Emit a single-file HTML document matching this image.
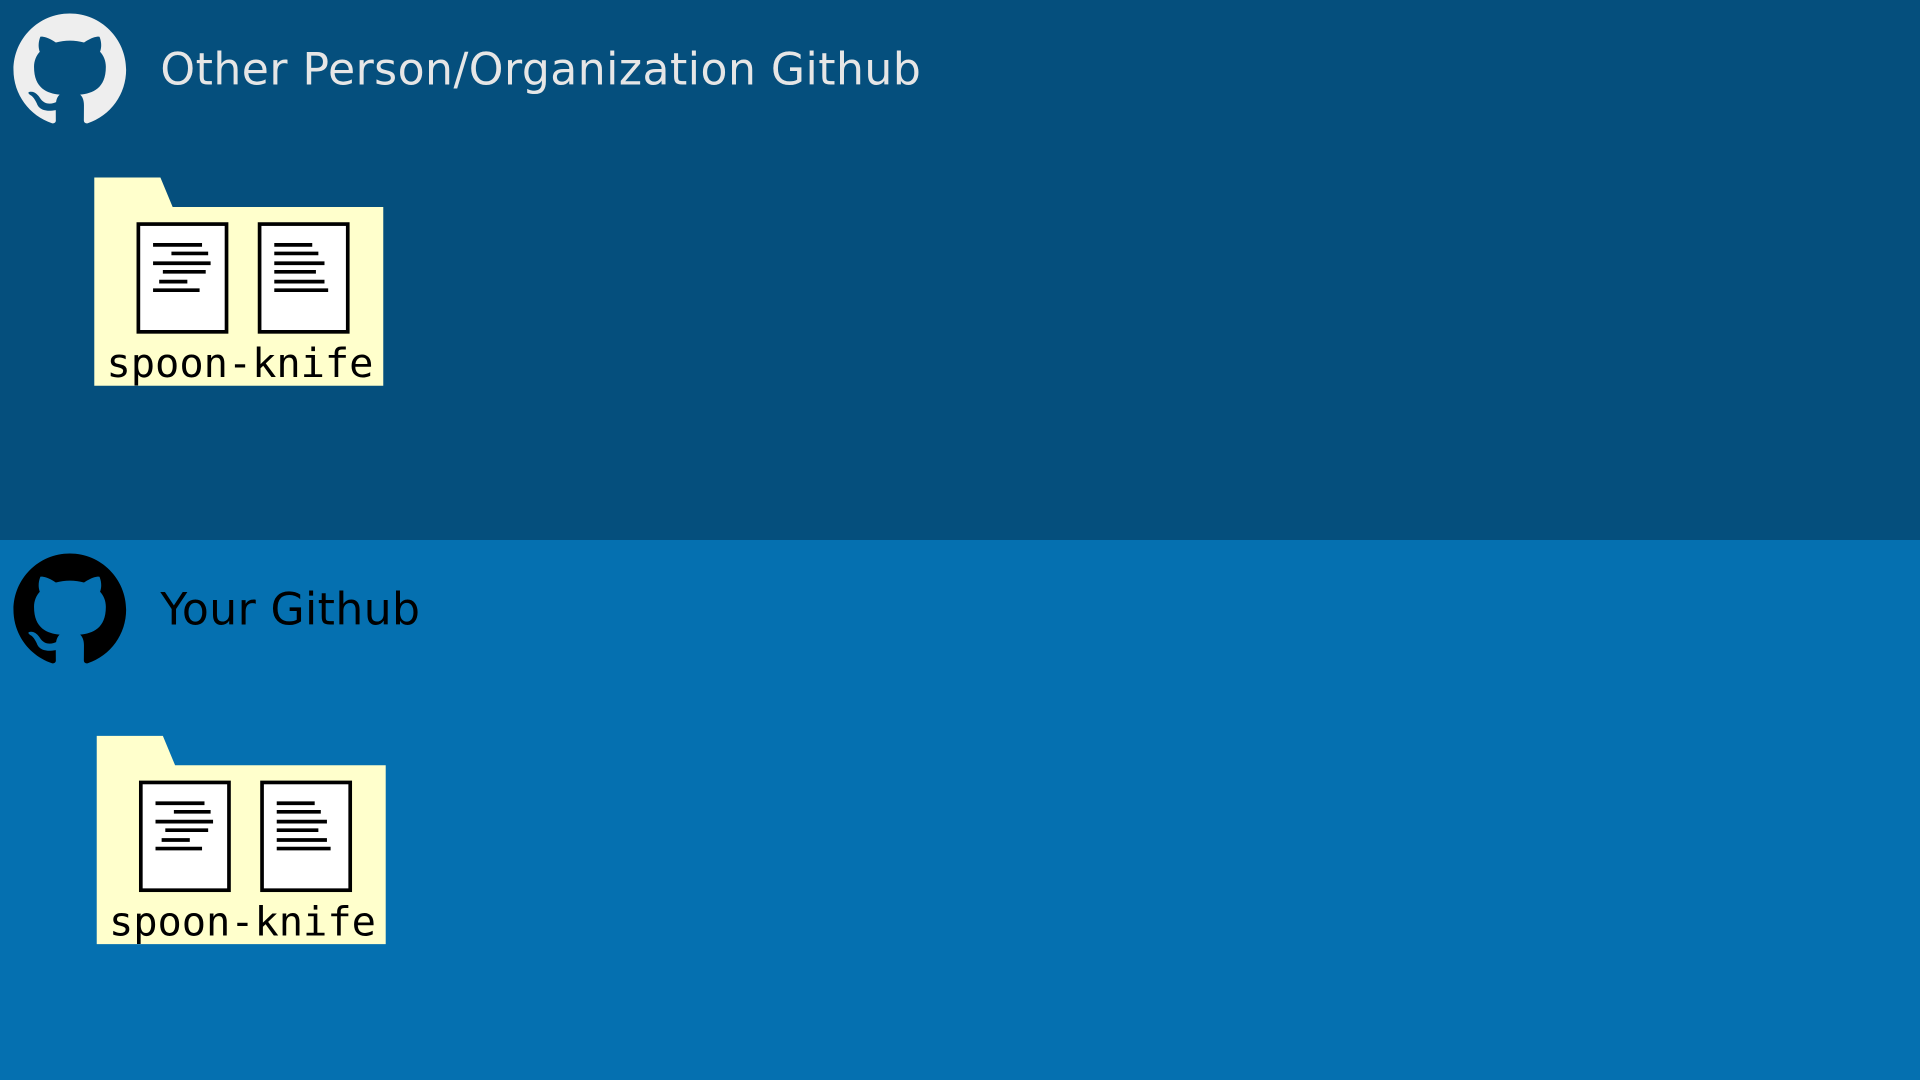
<!DOCTYPE html>
<html><head><meta charset="utf-8"><style>html,body{margin:0;padding:0;overflow:hidden;background:#0570b0}svg{display:block}</style></head>
<body>
<svg width="1920" height="1080" viewBox="0 0 1568 882" xmlns="http://www.w3.org/2000/svg">
<defs>
<path id="gh" d="M8 0C3.58 0 0 3.58 0 8c0 3.54 2.29 6.53 5.47 7.59.4.07.55-.17.55-.38 0-.19-.01-.82-.01-1.49-2.01.37-2.530-.49-2.69-.94-.09-.23-.48-.94-.82-1.13-.28-.15-.68-.52-.01-.53.63-.01 1.08.58 1.23.82.72 1.21 1.87.87 2.33.66.07-.52.28-.87.51-1.07-1.78-.2-3.64-.89-3.640-3.95 0-.87.31-1.59.82-2.15-.08-.2-.36-1.02.08-2.12 0 0 .67-.21 2.2.82.64-.18 1.32-.27 2-.27.68 0 1.36.09 2 .27 1.53-1.040 2.2-.82 2.2-.82.44 1.1.16 1.92.08 2.12.51.56.82 1.27.82 2.15 0 3.07-1.87 3.75-3.65 3.95.29.25.54.73.54 1.48 0 1.07-.01 1.93-.01 2.2 0 .21.15.46.55.38A8.013 8.013 0 0016 8c0-4.42-3.58-8-8-8z"/>
<g id="folder">
<path d="M77 145 H131 L141 169 H313 V315 H77 Z" fill="#ffffcc"/>
<rect x="113" y="183" width="72" height="88" fill="#fff" stroke="#000" stroke-width="3"/>
<rect x="212" y="183" width="72" height="88" fill="#fff" stroke="#000" stroke-width="3"/>
<g stroke="#000" stroke-width="3">
<line x1="125" y1="200" x2="165" y2="200"/><line x1="140" y1="207" x2="170" y2="207"/>
<line x1="125" y1="215" x2="172" y2="215"/><line x1="133" y1="222" x2="168" y2="222"/>
<line x1="130" y1="230" x2="153" y2="230"/><line x1="125" y1="237" x2="163" y2="237"/>
<line x1="224" y1="200" x2="255" y2="200"/><line x1="224" y1="207" x2="260" y2="207"/>
<line x1="224" y1="215" x2="265" y2="215"/><line x1="224" y1="222" x2="258" y2="222"/>
<line x1="224" y1="230" x2="265" y2="230"/><line x1="224" y1="237" x2="268" y2="237"/>
</g>
<text x="87" y="308" font-family="DejaVu Sans Mono, Liberation Mono, monospace" font-size="33" textLength="218" fill="#000">spoon-knife</text>
</g>
</defs>
<rect x="0" y="0" width="1568" height="441" fill="#054f7d"/>
<rect x="0" y="441" width="1568" height="441" fill="#0570b0"/>
<use href="#gh" transform="translate(11,11) scale(5.75)" fill="#eeeeee"/>
<text x="131" y="69" font-family="DejaVu Sans, Liberation Sans, sans-serif" font-size="36" textLength="621" fill="#e6e6e6">Other Person/Organization Github</text>
<use href="#folder"/>
<use href="#gh" transform="translate(11,452) scale(5.75)" fill="#000"/>
<text x="131" y="510" font-family="DejaVu Sans, Liberation Sans, sans-serif" font-size="36" textLength="212" fill="#000">Your Github</text>
<use href="#folder" transform="translate(2,456)"/>
</svg>
</body></html>
